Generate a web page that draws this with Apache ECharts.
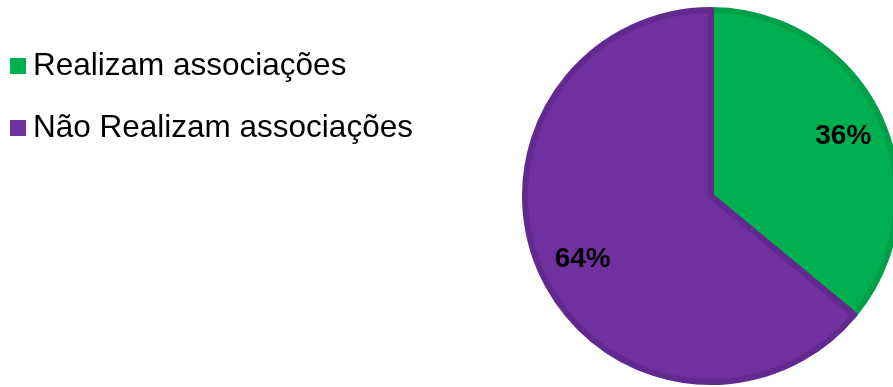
<!DOCTYPE html>
<html>
<head>
<meta charset="utf-8">
<script src="https://cdn.jsdelivr.net/npm/echarts@6/dist/echarts.min.js"></script>
<style>
  html, body { margin: 0; padding: 0; background: #fff; }
  #main { width: 893px; height: 387px; }
</style>
</head>
<body>
<div id="main"></div>
<script>
var categories = ['Realizam associações', 'Não Realizam associações'];
var values = [36, 64];
var fillColors = ['#00b050', '#7030a0'];
var edgeColors = ['#009f49', '#622a8f'];

var myChart = echarts.init(document.getElementById('main'));

var sliceData = categories.map(function (name, i) {
    return {
        name: name,
        value: values[i],
        itemStyle: { color: fillColors[i], borderColor: edgeColors[i] }
    };
});
var labelData = categories.map(function (name, i) {
    return { name: name, value: values[i] };
});

var option = {
    animation: false,
    legend: {
        orient: 'vertical',
        left: 5,
        top: 45,
        itemWidth: 16,
        itemHeight: 16,
        itemGap: 30,
        icon: 'rect',
        itemStyle: { borderWidth: 0 },
        data: categories,
        textStyle: {
            fontFamily: 'Liberation Sans, Arial, sans-serif',
            fontSize: 31.5,
            color: '#000',
            lineHeight: 31,
            padding: [0, 0, 0, 2]
        }
    },
    series: [
        {
            type: 'pie',
            center: [711, 196],
            radius: 186,
            startAngle: 90,
            clockwise: true,
            silent: true,
            itemStyle: { borderWidth: 6 },
            label: { show: false },
            labelLine: { show: false },
            data: sliceData
        },
        {
            // apenas os rótulos, posicionados mais para fora
            type: 'pie',
            center: [713, 198],
            radius: [93, 189],
            startAngle: 90,
            clockwise: true,
            silent: true,
            itemStyle: { color: 'transparent' },
            label: {
                show: true,
                position: 'inside',
                formatter: '{c}%',
                fontFamily: 'Liberation Sans, Arial, sans-serif',
                fontWeight: 'bold',
                fontSize: 28,
                color: '#000'
            },
            labelLine: { show: false },
            data: labelData
        }
    ]
};
myChart.setOption(option);
</script>
</body>
</html>
